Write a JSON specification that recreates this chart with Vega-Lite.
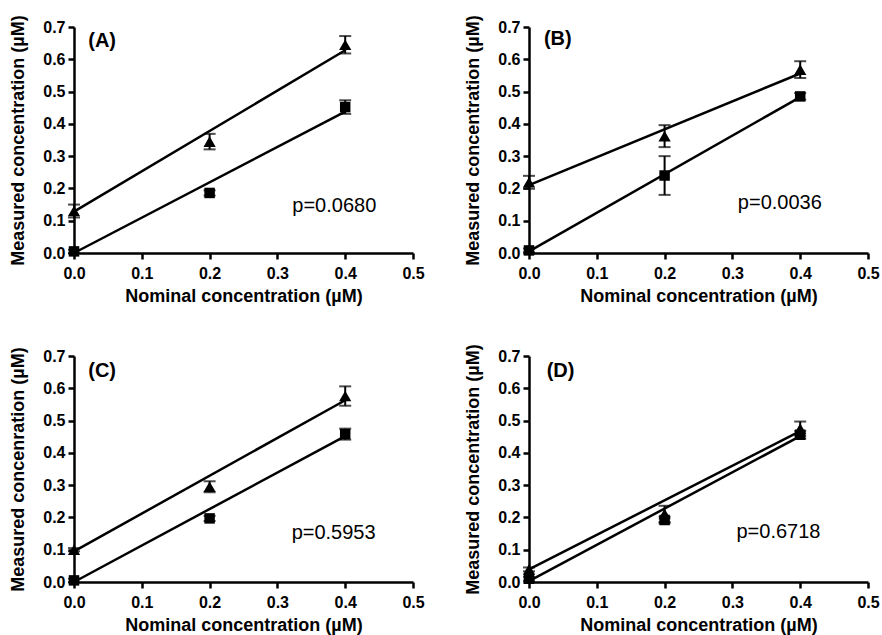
{
  "$schema": "https://vega.github.io/schema/vega-lite/v6.json",
  "background": "white",
  "padding": {"left": 9, "top": 14, "right": 2, "bottom": 2},
  "datasets": {
    "pts": [
      {"panel": "A", "series": "triangle", "x": 0.0, "y": 0.13, "err": 0.02},
      {"panel": "A", "series": "triangle", "x": 0.2, "y": 0.345, "err": 0.024},
      {"panel": "A", "series": "triangle", "x": 0.4, "y": 0.645, "err": 0.027},
      {"panel": "A", "series": "square", "x": 0.0, "y": 0.005, "err": 0.005},
      {"panel": "A", "series": "square", "x": 0.2, "y": 0.186, "err": 0.008},
      {"panel": "A", "series": "square", "x": 0.4, "y": 0.452, "err": 0.021},
      {"panel": "B", "series": "triangle", "x": 0.0, "y": 0.219, "err": 0.02},
      {"panel": "B", "series": "triangle", "x": 0.2, "y": 0.362, "err": 0.034},
      {"panel": "B", "series": "triangle", "x": 0.4, "y": 0.568, "err": 0.026},
      {"panel": "B", "series": "square", "x": 0.0, "y": 0.008, "err": 0.006},
      {"panel": "B", "series": "square", "x": 0.2, "y": 0.24, "err": 0.06},
      {"panel": "B", "series": "square", "x": 0.4, "y": 0.485, "err": 0.01},
      {"panel": "C", "series": "triangle", "x": 0.0, "y": 0.1, "err": 0.005},
      {"panel": "C", "series": "triangle", "x": 0.2, "y": 0.295, "err": 0.017},
      {"panel": "C", "series": "triangle", "x": 0.4, "y": 0.576, "err": 0.03},
      {"panel": "C", "series": "square", "x": 0.0, "y": 0.005, "err": 0.005},
      {"panel": "C", "series": "square", "x": 0.2, "y": 0.197, "err": 0.008},
      {"panel": "C", "series": "square", "x": 0.4, "y": 0.458, "err": 0.017},
      {"panel": "D", "series": "triangle", "x": 0.0, "y": 0.039, "err": 0.006},
      {"panel": "D", "series": "triangle", "x": 0.2, "y": 0.211, "err": 0.025},
      {"panel": "D", "series": "triangle", "x": 0.4, "y": 0.475, "err": 0.022},
      {"panel": "D", "series": "square", "x": 0.0, "y": 0.01, "err": 0.006},
      {"panel": "D", "series": "square", "x": 0.2, "y": 0.192, "err": 0.01},
      {"panel": "D", "series": "square", "x": 0.4, "y": 0.456, "err": 0.012}
    ],
    "fits": [
      {"panel": "A", "series": "triangle", "x": 0.0, "y": 0.128},
      {"panel": "A", "series": "triangle", "x": 0.4, "y": 0.628},
      {"panel": "A", "series": "square", "x": 0.0, "y": 0.0},
      {"panel": "A", "series": "square", "x": 0.4, "y": 0.438},
      {"panel": "B", "series": "triangle", "x": 0.0, "y": 0.21},
      {"panel": "B", "series": "triangle", "x": 0.4, "y": 0.556},
      {"panel": "B", "series": "square", "x": 0.0, "y": 0.005},
      {"panel": "B", "series": "square", "x": 0.4, "y": 0.483},
      {"panel": "C", "series": "triangle", "x": 0.0, "y": 0.095},
      {"panel": "C", "series": "triangle", "x": 0.4, "y": 0.563},
      {"panel": "C", "series": "square", "x": 0.0, "y": 0.0},
      {"panel": "C", "series": "square", "x": 0.4, "y": 0.452},
      {"panel": "D", "series": "triangle", "x": 0.0, "y": 0.039},
      {"panel": "D", "series": "triangle", "x": 0.4, "y": 0.467},
      {"panel": "D", "series": "square", "x": 0.0, "y": 0.003},
      {"panel": "D", "series": "square", "x": 0.4, "y": 0.452}
    ]
  },
  "columns": 2,
  "spacing": {"column": 39, "row": 38},
  "concat": [
    {
      "width": 339, "height": 226,
      "layer": [
        {"data": {"name": "fits"}, "transform": [{"filter": "datum.panel === 'A'"}],
         "mark": {"type": "line", "color": "black", "strokeWidth": 2.5},
         "encoding": {
           "x": {"field": "x", "type": "quantitative", "title": "Nominal concentration (µM)", "scale": {"domain": [0, 0.5], "nice": false}, "axis": {"values": [0, 0.1, 0.2, 0.3, 0.4, 0.5], "format": ".1f"}},
           "y": {"field": "y", "type": "quantitative", "title": "Measured concentration (µM)", "scale": {"domain": [0, 0.7], "nice": false}, "axis": {"values": [0, 0.1, 0.2, 0.3, 0.4, 0.5, 0.6, 0.7], "format": ".1f"}},
           "detail": {"field": "series"}}},
        {"data": {"name": "pts"}, "transform": [{"filter": "datum.panel === 'A'"}],
         "mark": {"type": "errorbar", "ticks": {"size": 12}, "thickness": 2, "color": "black"},
         "encoding": {"x": {"field": "x", "type": "quantitative", "title": "Nominal concentration (µM)", "axis": {"values": [0, 0.1, 0.2, 0.3, 0.4, 0.5], "format": ".1f"}}, "y": {"field": "y", "type": "quantitative", "title": "Measured concentration (µM)", "axis": {"values": [0, 0.1, 0.2, 0.3, 0.4, 0.5, 0.6, 0.7], "format": ".1f"}}, "yError": {"field": "err"}}},
        {"data": {"name": "pts"}, "transform": [{"filter": "datum.panel === 'A'"}],
         "mark": {"type": "point", "filled": true, "color": "black", "opacity": 1},
         "encoding": {"x": {"field": "x", "type": "quantitative", "title": "Nominal concentration (µM)", "axis": {"values": [0, 0.1, 0.2, 0.3, 0.4, 0.5], "format": ".1f"}}, "y": {"field": "y", "type": "quantitative", "title": "Measured concentration (µM)", "axis": {"values": [0, 0.1, 0.2, 0.3, 0.4, 0.5, 0.6, 0.7], "format": ".1f"}},
           "shape": {"field": "series", "scale": {"domain": ["triangle", "square"], "range": ["triangle-up", "square"]}, "legend": null},
           "size": {"field": "series", "scale": {"type": "ordinal", "domain": ["triangle", "square"], "range": [150, 110]}, "legend": null}}},
        {"data": {"values": [{}]}, "mark": {"type": "text", "align": "left", "baseline": "middle", "fontSize": 20, "fontWeight": "bold", "color": "black"},
         "encoding": {"x": {"datum": 0.021, "type": "quantitative", "title": "Nominal concentration (µM)", "axis": {"values": [0, 0.1, 0.2, 0.3, 0.4, 0.5], "format": ".1f"}}, "y": {"datum": 0.658, "type": "quantitative", "title": "Measured concentration (µM)", "axis": {"values": [0, 0.1, 0.2, 0.3, 0.4, 0.5, 0.6, 0.7], "format": ".1f"}}, "text": {"value": "(A)"}}},
        {"data": {"values": [{}]}, "mark": {"type": "text", "align": "left", "baseline": "middle", "fontSize": 20, "color": "black"},
         "encoding": {"x": {"datum": 0.322, "type": "quantitative", "title": "Nominal concentration (µM)", "axis": {"values": [0, 0.1, 0.2, 0.3, 0.4, 0.5], "format": ".1f"}}, "y": {"datum": 0.145, "type": "quantitative", "title": "Measured concentration (µM)", "axis": {"values": [0, 0.1, 0.2, 0.3, 0.4, 0.5, 0.6, 0.7], "format": ".1f"}}, "text": {"value": "p=0.0680"}}}
      ]
    },
    {
      "width": 339, "height": 226,
      "layer": [
        {"data": {"name": "fits"}, "transform": [{"filter": "datum.panel === 'B'"}],
         "mark": {"type": "line", "color": "black", "strokeWidth": 2.5},
         "encoding": {
           "x": {"field": "x", "type": "quantitative", "title": "Nominal concentration (µM)", "scale": {"domain": [0, 0.5], "nice": false}, "axis": {"values": [0, 0.1, 0.2, 0.3, 0.4, 0.5], "format": ".1f"}},
           "y": {"field": "y", "type": "quantitative", "title": "Measured concentration (µM)", "scale": {"domain": [0, 0.7], "nice": false}, "axis": {"values": [0, 0.1, 0.2, 0.3, 0.4, 0.5, 0.6, 0.7], "format": ".1f"}},
           "detail": {"field": "series"}}},
        {"data": {"name": "pts"}, "transform": [{"filter": "datum.panel === 'B'"}],
         "mark": {"type": "errorbar", "ticks": {"size": 12}, "thickness": 2, "color": "black"},
         "encoding": {"x": {"field": "x", "type": "quantitative", "title": "Nominal concentration (µM)", "axis": {"values": [0, 0.1, 0.2, 0.3, 0.4, 0.5], "format": ".1f"}}, "y": {"field": "y", "type": "quantitative", "title": "Measured concentration (µM)", "axis": {"values": [0, 0.1, 0.2, 0.3, 0.4, 0.5, 0.6, 0.7], "format": ".1f"}}, "yError": {"field": "err"}}},
        {"data": {"name": "pts"}, "transform": [{"filter": "datum.panel === 'B'"}],
         "mark": {"type": "point", "filled": true, "color": "black", "opacity": 1},
         "encoding": {"x": {"field": "x", "type": "quantitative", "title": "Nominal concentration (µM)", "axis": {"values": [0, 0.1, 0.2, 0.3, 0.4, 0.5], "format": ".1f"}}, "y": {"field": "y", "type": "quantitative", "title": "Measured concentration (µM)", "axis": {"values": [0, 0.1, 0.2, 0.3, 0.4, 0.5, 0.6, 0.7], "format": ".1f"}},
           "shape": {"field": "series", "scale": {"domain": ["triangle", "square"], "range": ["triangle-up", "square"]}, "legend": null},
           "size": {"field": "series", "scale": {"type": "ordinal", "domain": ["triangle", "square"], "range": [150, 110]}, "legend": null}}},
        {"data": {"values": [{}]}, "mark": {"type": "text", "align": "left", "baseline": "middle", "fontSize": 20, "fontWeight": "bold", "color": "black"},
         "encoding": {"x": {"datum": 0.022, "type": "quantitative", "title": "Nominal concentration (µM)", "axis": {"values": [0, 0.1, 0.2, 0.3, 0.4, 0.5], "format": ".1f"}}, "y": {"datum": 0.662, "type": "quantitative", "title": "Measured concentration (µM)", "axis": {"values": [0, 0.1, 0.2, 0.3, 0.4, 0.5, 0.6, 0.7], "format": ".1f"}}, "text": {"value": "(B)"}}},
        {"data": {"values": [{}]}, "mark": {"type": "text", "align": "left", "baseline": "middle", "fontSize": 20, "color": "black"},
         "encoding": {"x": {"datum": 0.308, "type": "quantitative", "title": "Nominal concentration (µM)", "axis": {"values": [0, 0.1, 0.2, 0.3, 0.4, 0.5], "format": ".1f"}}, "y": {"datum": 0.154, "type": "quantitative", "title": "Measured concentration (µM)", "axis": {"values": [0, 0.1, 0.2, 0.3, 0.4, 0.5, 0.6, 0.7], "format": ".1f"}}, "text": {"value": "p=0.0036"}}}
      ]
    },
    {
      "width": 339, "height": 226,
      "layer": [
        {"data": {"name": "fits"}, "transform": [{"filter": "datum.panel === 'C'"}],
         "mark": {"type": "line", "color": "black", "strokeWidth": 2.5},
         "encoding": {
           "x": {"field": "x", "type": "quantitative", "title": "Nominal concentration (µM)", "scale": {"domain": [0, 0.5], "nice": false}, "axis": {"values": [0, 0.1, 0.2, 0.3, 0.4, 0.5], "format": ".1f"}},
           "y": {"field": "y", "type": "quantitative", "title": "Measured concenration (µM)", "scale": {"domain": [0, 0.7], "nice": false}, "axis": {"values": [0, 0.1, 0.2, 0.3, 0.4, 0.5, 0.6, 0.7], "format": ".1f"}},
           "detail": {"field": "series"}}},
        {"data": {"name": "pts"}, "transform": [{"filter": "datum.panel === 'C'"}],
         "mark": {"type": "errorbar", "ticks": {"size": 12}, "thickness": 2, "color": "black"},
         "encoding": {"x": {"field": "x", "type": "quantitative", "title": "Nominal concentration (µM)", "axis": {"values": [0, 0.1, 0.2, 0.3, 0.4, 0.5], "format": ".1f"}}, "y": {"field": "y", "type": "quantitative", "title": "Measured concenration (µM)", "axis": {"values": [0, 0.1, 0.2, 0.3, 0.4, 0.5, 0.6, 0.7], "format": ".1f"}}, "yError": {"field": "err"}}},
        {"data": {"name": "pts"}, "transform": [{"filter": "datum.panel === 'C'"}],
         "mark": {"type": "point", "filled": true, "color": "black", "opacity": 1},
         "encoding": {"x": {"field": "x", "type": "quantitative", "title": "Nominal concentration (µM)", "axis": {"values": [0, 0.1, 0.2, 0.3, 0.4, 0.5], "format": ".1f"}}, "y": {"field": "y", "type": "quantitative", "title": "Measured concenration (µM)", "axis": {"values": [0, 0.1, 0.2, 0.3, 0.4, 0.5, 0.6, 0.7], "format": ".1f"}},
           "shape": {"field": "series", "scale": {"domain": ["triangle", "square"], "range": ["triangle-up", "square"]}, "legend": null},
           "size": {"field": "series", "scale": {"type": "ordinal", "domain": ["triangle", "square"], "range": [150, 110]}, "legend": null}}},
        {"data": {"values": [{}]}, "mark": {"type": "text", "align": "left", "baseline": "middle", "fontSize": 20, "fontWeight": "bold", "color": "black"},
         "encoding": {"x": {"datum": 0.021, "type": "quantitative", "title": "Nominal concentration (µM)", "axis": {"values": [0, 0.1, 0.2, 0.3, 0.4, 0.5], "format": ".1f"}}, "y": {"datum": 0.654, "type": "quantitative", "title": "Measured concenration (µM)", "axis": {"values": [0, 0.1, 0.2, 0.3, 0.4, 0.5, 0.6, 0.7], "format": ".1f"}}, "text": {"value": "(C)"}}},
        {"data": {"values": [{}]}, "mark": {"type": "text", "align": "left", "baseline": "middle", "fontSize": 20, "color": "black"},
         "encoding": {"x": {"datum": 0.321, "type": "quantitative", "title": "Nominal concentration (µM)", "axis": {"values": [0, 0.1, 0.2, 0.3, 0.4, 0.5], "format": ".1f"}}, "y": {"datum": 0.152, "type": "quantitative", "title": "Measured concenration (µM)", "axis": {"values": [0, 0.1, 0.2, 0.3, 0.4, 0.5, 0.6, 0.7], "format": ".1f"}}, "text": {"value": "p=0.5953"}}}
      ]
    },
    {
      "width": 339, "height": 226,
      "layer": [
        {"data": {"name": "fits"}, "transform": [{"filter": "datum.panel === 'D'"}],
         "mark": {"type": "line", "color": "black", "strokeWidth": 2.5},
         "encoding": {
           "x": {"field": "x", "type": "quantitative", "title": "Nominal concentration (µM)", "scale": {"domain": [0, 0.5], "nice": false}, "axis": {"values": [0, 0.1, 0.2, 0.3, 0.4, 0.5], "format": ".1f"}},
           "y": {"field": "y", "type": "quantitative", "title": "Measured concentration (µM)", "scale": {"domain": [0, 0.7], "nice": false}, "axis": {"values": [0, 0.1, 0.2, 0.3, 0.4, 0.5, 0.6, 0.7], "format": ".1f"}},
           "detail": {"field": "series"}}},
        {"data": {"name": "pts"}, "transform": [{"filter": "datum.panel === 'D'"}],
         "mark": {"type": "errorbar", "ticks": {"size": 12}, "thickness": 2, "color": "black"},
         "encoding": {"x": {"field": "x", "type": "quantitative", "title": "Nominal concentration (µM)", "axis": {"values": [0, 0.1, 0.2, 0.3, 0.4, 0.5], "format": ".1f"}}, "y": {"field": "y", "type": "quantitative", "title": "Measured concentration (µM)", "axis": {"values": [0, 0.1, 0.2, 0.3, 0.4, 0.5, 0.6, 0.7], "format": ".1f"}}, "yError": {"field": "err"}}},
        {"data": {"name": "pts"}, "transform": [{"filter": "datum.panel === 'D'"}],
         "mark": {"type": "point", "filled": true, "color": "black", "opacity": 1},
         "encoding": {"x": {"field": "x", "type": "quantitative", "title": "Nominal concentration (µM)", "axis": {"values": [0, 0.1, 0.2, 0.3, 0.4, 0.5], "format": ".1f"}}, "y": {"field": "y", "type": "quantitative", "title": "Measured concentration (µM)", "axis": {"values": [0, 0.1, 0.2, 0.3, 0.4, 0.5, 0.6, 0.7], "format": ".1f"}},
           "shape": {"field": "series", "scale": {"domain": ["triangle", "square"], "range": ["triangle-up", "square"]}, "legend": null},
           "size": {"field": "series", "scale": {"type": "ordinal", "domain": ["triangle", "square"], "range": [150, 110]}, "legend": null}}},
        {"data": {"values": [{}]}, "mark": {"type": "text", "align": "left", "baseline": "middle", "fontSize": 20, "fontWeight": "bold", "color": "black"},
         "encoding": {"x": {"datum": 0.026, "type": "quantitative", "title": "Nominal concentration (µM)", "axis": {"values": [0, 0.1, 0.2, 0.3, 0.4, 0.5], "format": ".1f"}}, "y": {"datum": 0.652, "type": "quantitative", "title": "Measured concentration (µM)", "axis": {"values": [0, 0.1, 0.2, 0.3, 0.4, 0.5, 0.6, 0.7], "format": ".1f"}}, "text": {"value": "(D)"}}},
        {"data": {"values": [{}]}, "mark": {"type": "text", "align": "left", "baseline": "middle", "fontSize": 20, "color": "black"},
         "encoding": {"x": {"datum": 0.306, "type": "quantitative", "title": "Nominal concentration (µM)", "axis": {"values": [0, 0.1, 0.2, 0.3, 0.4, 0.5], "format": ".1f"}}, "y": {"datum": 0.155, "type": "quantitative", "title": "Measured concentration (µM)", "axis": {"values": [0, 0.1, 0.2, 0.3, 0.4, 0.5, 0.6, 0.7], "format": ".1f"}}, "text": {"value": "p=0.6718"}}}
      ]
    }
  ],
  "config": {
    "view": {"stroke": null},
    "font": "Liberation Sans",
    "text": {"font": "Liberation Sans"},
    "scale": {"continuousPadding": 0},
    "axis": {
      "domainColor": "black", "domainWidth": 2.5, "tickColor": "black", "tickWidth": 2.5, "tickSize": 6,
      "labelFont": "Liberation Sans", "labelFontSize": 16, "labelFontWeight": "bold", "labelColor": "black",
      "titleFont": "Liberation Sans", "titleFontSize": 18, "titleFontWeight": "bold", "titleColor": "black",
      "grid": false, "labelOverlap": false, "labelBound": false, "labelFlush": false
    },
    "axisX": {"labelPadding": 6, "titlePadding": 6},
    "axisY": {"labelPadding": 3, "titlePadding": 15}
  }
}
